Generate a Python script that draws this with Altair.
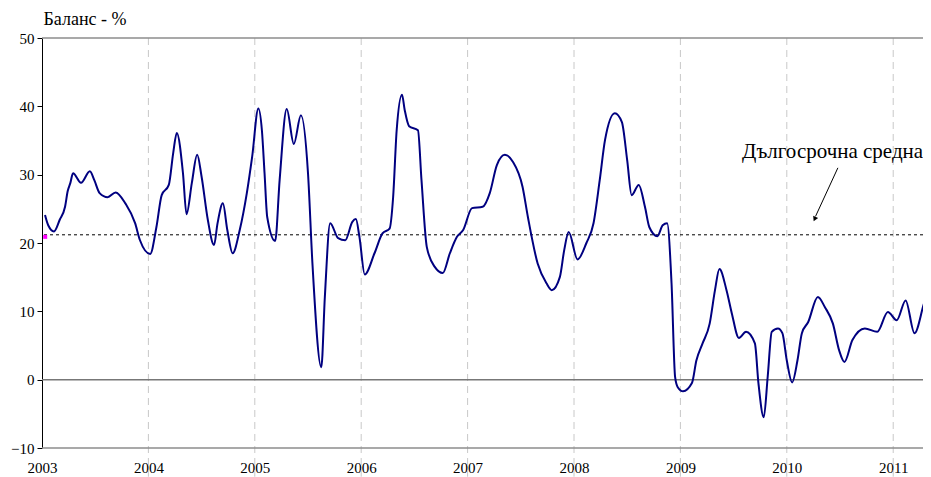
import altair as alt
import pandas as pd

# months since Jan 2003 (fractional) and balance values
months = [0.34, 0.7, 1.35, 2.0, 2.6, 2.9, 3.2, 3.5, 4.4, 5.4, 5.9, 6.5, 7.4, 8.3, 9.4, 10.5, 11.05,
          12.2, 12.9, 13.5, 14.3, 14.8, 15.2, 15.9, 16.3, 16.9, 17.5, 18.0, 18.7, 19.4, 19.8, 20.4,
          20.9, 21.5, 22.3, 23.1, 23.7, 24.4, 24.8, 25.1, 25.4, 26.3, 26.8, 27.6, 28.4, 29.2, 30.0,
          30.5, 31.5, 31.9, 32.5, 33.4, 34.2, 35.0, 35.4, 35.8, 36.4, 37.5, 38.4, 39.2, 39.6, 40.0,
          40.6, 40.9, 41.4, 42.4, 42.8, 43.4, 44.3, 45.2, 46.0, 46.8, 47.5, 48.5, 49.7, 50.5, 51.3,
          52.2, 53.1, 54.2, 54.8, 55.9, 56.9, 57.5, 58.4, 58.9, 59.4, 60.4, 61.4, 62.2, 62.9, 63.5,
          64.6, 65.4, 66.0, 66.5, 67.3, 68.0, 68.5, 69.4, 70.0, 70.5, 71.0, 71.4, 71.7, 72.3, 73.3,
          73.8, 74.5, 75.3, 75.9, 76.4, 77.2, 77.8, 78.6, 79.4, 80.4, 80.8, 81.4, 81.85, 82.3, 83.0,
          83.5, 84.0, 84.6, 85.2, 85.7, 86.4, 87.5, 88.3, 89.2, 89.9, 90.5, 91.4, 92.8, 94.2, 95.4,
          96.4, 97.4, 98.4, 99.6, 100.3]
values = [24.1, 22.6, 21.7, 23.4, 25.3, 27.6, 28.8, 30.2, 28.8, 30.5, 29.2, 27.3, 26.7, 27.4, 25.8, 22.9, 20.4,
          18.4, 22.3, 27.0, 28.5, 33.2, 36.1, 30.2, 24.2, 28.8, 32.9, 29.7, 23.4, 19.7, 22.9, 25.8,
          21.9, 18.5, 21.9, 27.3, 32.6, 39.7, 36.5, 30.2, 23.8, 20.3, 29.2, 39.6, 34.5, 38.7, 30.2,
          17.0, 1.8, 12.1, 22.9, 20.7, 20.4, 23.1, 23.5, 20.9, 15.4, 18.5, 21.4, 22.1, 26.7, 36.5,
          41.7, 39.5, 37.1, 36.5, 29.2, 19.4, 16.5, 15.6, 18.5, 20.9, 21.9, 25.1, 25.3, 27.3, 31.4,
          32.9, 31.9, 28.2, 23.8, 17.0, 14.1, 13.1, 15.0, 19.0, 21.6, 17.6, 20.0, 22.9, 29.2, 35.1,
          39.0, 37.7, 32.1, 27.0, 28.5, 25.3, 22.3, 21.0, 22.6, 22.9, 14.1, 0.4, -1.1, -1.7, -0.5,
          2.8, 5.3, 8.2, 13.1, 16.2, 13.1, 9.7, 6.1, 7.0, 5.3, -0.5, -5.5, 0.5, 7.0, 7.5,
          6.8, 2.8, -0.4, 2.8, 6.8, 8.4, 12.1, 10.6, 8.2, 4.3, 2.6, 5.8, 7.5, 7.0, 9.9,
          8.7, 11.6, 6.8, 11.6, 13.1]

years = [2003, 2004, 2005, 2006, 2007, 2008, 2009, 2010, 2011]
grid_years = [2004, 2005, 2006, 2007, 2008, 2009, 2010, 2011]
y_ticks = [-10, 0, 10, 20, 30, 40, 50]
hlines = [50, -10]
long_term_avg = 21.2
annotation = "Дългосрочна средна"
y_title = "Баланс - %"

FONT = "Liberation Serif, Times New Roman, serif"
X_DOMAIN = [2003, 2011.28]
Y_DOMAIN = [-10, 50]
GRID_TOP, GRID_BOTTOM = 50, -14.2

df = pd.DataFrame({"year": [2003 + m / 12 for m in months], "value": values})
xs = alt.Scale(domain=X_DOMAIN, nice=False, zero=False)
ys = alt.Scale(domain=Y_DOMAIN, nice=False, zero=False)

XAXIS = alt.Axis(values=years, format="d", title=None, grid=False, ticks=False, domain=False,
                 labelPadding=12, labelFont=FONT, labelFontSize=15,
                 labelColor="black", labelFlush=False, labelOverlap=False)
YAXIS = alt.Axis(values=y_ticks, title=y_title, titleAngle=0,
                 titleAlign="left", titleBaseline="middle", titleX=1, titleY=-19,
                 titleFont=FONT, titleFontSize=18, titleFontWeight="normal", titleColor="black",
                 grid=False, domainColor="black", domainWidth=1, tickColor="black", tickSize=5,
                 labelFont=FONT, labelFontSize=15, labelColor="black", labelPadding=3)


def X(f):
    return alt.X(f, scale=xs, axis=XAXIS, title=None)


def Y(f):
    return alt.Y(f, scale=ys, axis=YAXIS, title=y_title)


grid_df = pd.DataFrame({"year": grid_years, "top": [GRID_TOP] * len(grid_years),
                        "bottom": [GRID_BOTTOM] * len(grid_years)})
grid = alt.Chart(grid_df).mark_rule(
    color="#c8c8c8", strokeDash=[7, 5], strokeWidth=1, clip=False
).encode(x=X("year:Q"), y=Y("top:Q"), y2="bottom:Q")

border = alt.Chart(pd.DataFrame({"v": hlines})).mark_rule(color="#8c8c8c", strokeWidth=1.5).encode(
    y=Y("v:Q")
)
zero = alt.Chart(pd.DataFrame({"v": [0]})).mark_rule(color="#777777", strokeWidth=1.5).encode(
    y=Y("v:Q")
)
avg = alt.Chart(pd.DataFrame({"v": [long_term_avg]})).mark_rule(
    color="black", strokeDash=[3, 3], strokeWidth=1
).encode(y=Y("v:Q"))

line = alt.Chart(df).mark_line(color="#000080", strokeWidth=2, interpolate="monotone", clip=True).encode(
    x=X("year:Q"), y=Y("value:Q")
)

marker = alt.Chart(pd.DataFrame({"year": [2003.03], "v": [20.9]})).mark_square(
    color="#ff00ff", size=16, opacity=1
).encode(x=X("year:Q"), y=Y("v:Q"))

label = alt.Chart(pd.DataFrame({"year": [2009.58], "v": [33.3], "t": [annotation]})).mark_text(
    align="left", baseline="middle", font=FONT, fontSize=21, color="black"
).encode(x=X("year:Q"), y=Y("v:Q"), text="t:N")

arrow = alt.Chart(pd.DataFrame({"x1": [2010.48], "y1": [31.0], "x2": [2010.27], "y2": [23.9]})).mark_rule(
    color="black", strokeWidth=1
).encode(x=X("x1:Q"), y=Y("y1:Q"), x2="x2:Q", y2="y2:Q")

head = alt.Chart(pd.DataFrame({"year": [2010.265], "v": [23.6]})).mark_point(
    shape="triangle", filled=True, color="black", size=30, angle=205, opacity=1
).encode(x=X("year:Q"), y=Y("v:Q"))

chart = alt.layer(grid, border, zero, avg, line, marker, label, arrow, head).properties(
    width=881, height=410,
    background="white",
    autosize=alt.AutoSizeParams(type="none"),
    padding={"left": 34, "top": 30, "right": 0, "bottom": 32},
).configure_view(stroke=None).configure_axis(
    labelFont=FONT, titleFont=FONT
).configure_text(font=FONT)

chart.save("out.html", embed_options={"renderer": "svg", "actions": False})
